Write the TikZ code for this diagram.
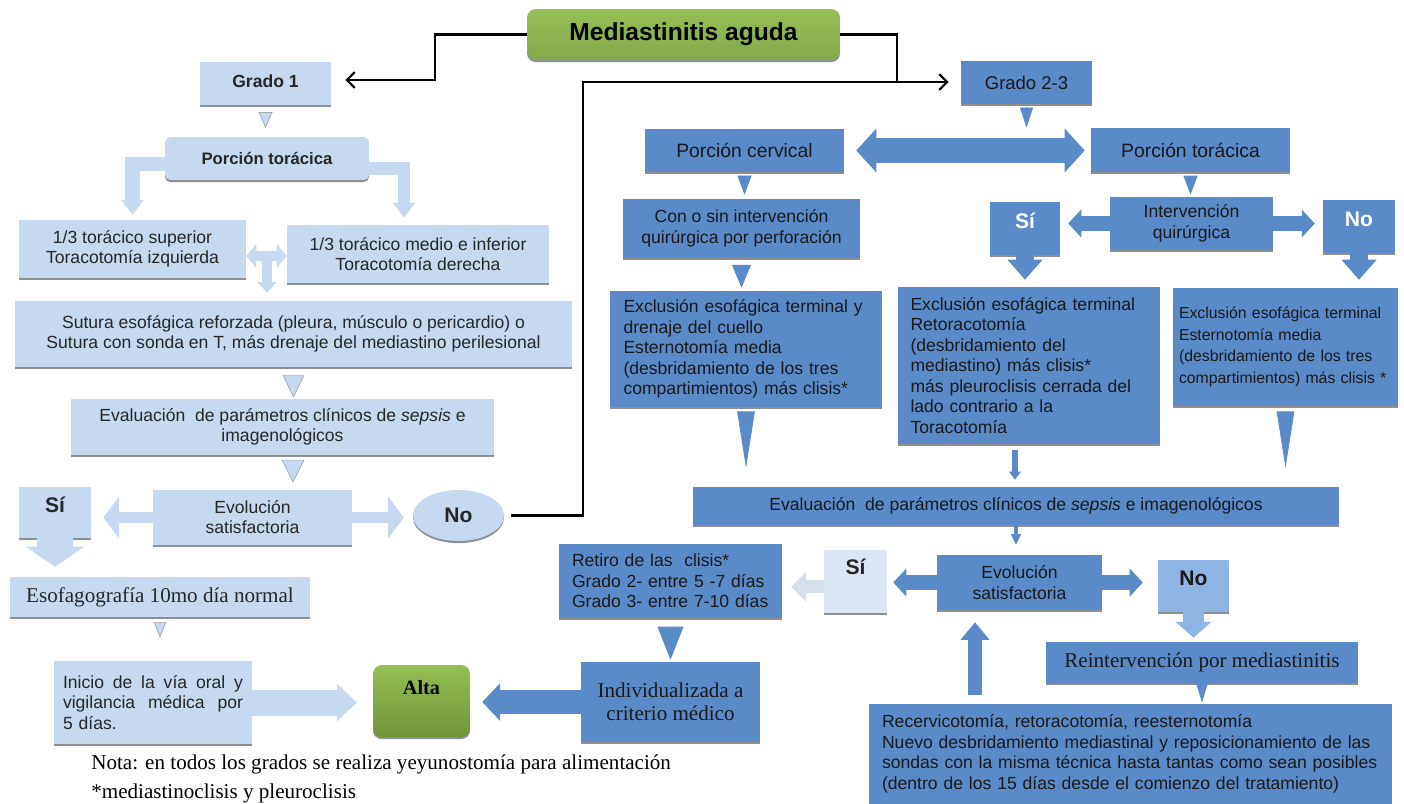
\documentclass[tikz,border=0pt]{standalone}
\usepackage{fontspec}
\setmainfont{Liberation Serif}
\setsansfont{Liberation Sans}
\usetikzlibrary{arrows.meta,shapes.geometric,shadows}

\definecolor{lblue}{HTML}{C6D9F1}
\definecolor{pblue}{HTML}{DCE6F2}
\definecolor{mblue}{HTML}{8EB4E3}
\definecolor{dblue}{HTML}{5A8BC8}
\definecolor{lgreen}{HTML}{95C055}
\definecolor{dgreen}{HTML}{6F9437}

\tikzset{
  sh/.style={drop shadow={shadow xshift=0pt,shadow yshift=-1.2pt,fill=black!55,opacity=.8}},
  lbox/.style={sh,fill=lblue,text=black!85,inner sep=2pt,align=center,font=\sffamily\fontsize{10}{11.5}\selectfont},
  dbox/.style={sh,fill=dblue,text=black!90,inner sep=2pt,align=center,font=\sffamily\fontsize{10}{11.7}\selectfont},
  ltext/.style={align=left,inner ysep=2pt},
  gbox/.style={sh,rounded corners=5pt,top color=lgreen,bottom color=dgreen},
  bold/.style={font=\sffamily\bfseries\fontsize{12}{14}\selectfont},
  serif/.style={font=\rmfamily\fontsize{12}{12.8}\selectfont},
  conn/.style={line width=1.2pt,-{Straight Barb[length=4.5pt,width=9pt]}},
  blk/.style n args={3}{line width=#1,-{Triangle[width=#2,length=#3,line width=0pt]}},
  dblk/.style n args={3}{line width=#1,{Triangle[width=#2,length=#3,line width=0pt]}-{Triangle[width=#2,length=#3,line width=0pt]}},
  ltri/.style 2 args={draw=black!35,line width=0.4pt,-{Triangle[width=#1,length=#2,fill=lblue]}},
  dtri/.style 2 args={draw=dblue,line width=0.4pt,-{Triangle[width=#1,length=#2]}}
}

\begin{document}
\begin{tikzpicture}[x=0.02cm,y=-0.02cm]
\useasboundingbox (0,0) rectangle (1404,804);

% title
\node[gbox,bottom color=lgreen!88!black,font=\sffamily\bfseries\fontsize{14}{16}\selectfont,minimum width=6.26cm,minimum height=1.02cm] (title) at (683.5,34.5) {Mediastinitis aguda};

% grado 1
\node[lbox,font=\sffamily\bfseries\fontsize{10}{12}\selectfont,text depth=0.1cm,minimum width=2.62cm,minimum height=0.86cm] (g1) at (265.5,83.5) {Grado 1};
\node[lbox,rounded corners=3pt,font=\sffamily\bfseries\fontsize{9.5}{11}\selectfont,minimum width=4.08cm,minimum height=0.86cm] (ptorl) at (267,158.5) {Porción torácica};
\node[lbox,minimum width=4.54cm,minimum height=1.16cm] (sup) at (132.5,249) {1/3 torácico superior\\Toracotomía izquierda};
\node[lbox,minimum width=5.24cm,minimum height=1.16cm] (inf) at (418,254) {1/3 torácico medio e inferior\\Toracotomía derecha};
\node[lbox,minimum width=11.14cm,minimum height=1.32cm] (sutura) at (293.5,334) {Sutura esofágica reforzada (pleura, músculo o pericardio) o\\Sutura con sonda en T, más drenaje del mediastino perilesional};
\node[lbox,minimum width=8.46cm,minimum height=1.12cm] (eval1) at (282.5,427) {Evaluación~ de parámetros clínicos de \textit{sepsis} e\\imagenológicos};
\node[lbox,minimum width=3.98cm,minimum height=1.1cm] (evol1) at (252.5,517.5) {Evolución\\satisfactoria};
\node[lbox,bold,text depth=0.3cm,minimum width=1.44cm,minimum height=1.02cm] (si1) at (55,512.5) {Sí};
\node[lbox,bold,ellipse,inner sep=0pt,minimum width=1.82cm,minimum height=1.02cm] (no1) at (458.5,515.5) {No};
\node[lbox,serif,minimum width=6cm,minimum height=0.8cm] (esof) at (160,597) {Esofagografía 10mo día normal};
\node[lbox,align=left,text width=3.6cm,inner xsep=0.18cm,minimum height=1.66cm] (inicio) at (153,702.5) {\makebox[3.6cm]{Inicio\hfill de\hfill la\hfill vía\hfill oral\hfill y}\\\makebox[3.6cm]{vigilancia\hfill médica\hfill por}\\5 días.};
\node[gbox,font=\rmfamily\bfseries\fontsize{11.5}{13}\selectfont,text depth=0.53cm,minimum width=1.94cm,minimum height=1.44cm] (alta) at (421.5,701) {Alta};

% grado 2-3
\node[dbox,font=\sffamily\fontsize{10.5}{12}\selectfont,minimum width=2.62cm,minimum height=0.86cm] (g23) at (1026.5,82.5) {Grado 2-3};
\node[dbox,font=\sffamily\fontsize{11}{13}\selectfont,minimum width=3.98cm,minimum height=0.86cm] (pcerv) at (744.5,150.5) {Porción cervical};
\node[dbox,font=\sffamily\fontsize{11}{13}\selectfont,minimum width=3.98cm,minimum height=0.88cm] (ptorr) at (1190.5,150) {Porción torácica};
\node[dbox,minimum width=4.74cm,minimum height=1.18cm] (consin) at (741.5,228.5) {Con o sin intervención\\quirúrgica por perforación};
\node[dbox,minimum width=3.26cm,minimum height=1.06cm] (interv) at (1191.5,223.5) {Intervención\\quirúrgica};
\node[dbox,bold,text=white,text depth=0.3cm,minimum width=1.4cm,minimum height=1.06cm] (si2) at (1025,228.5) {Sí};
\node[dbox,bold,text=white,text depth=0.3cm,minimum width=1.44cm,minimum height=1.06cm] (no2) at (1359,226.5) {No};
\node[dbox,ltext,text width=4.9cm,inner xsep=0.27cm,minimum height=2.32cm] (exA) at (746,349) {Exclusión esofágica terminal y\\drenaje del cuello\\Esternotomía media\\(desbridamiento de los tres\\compartimientos) más clisis*};
\node[dbox,ltext,text width=4.74cm,inner xsep=0.25cm,minimum height=3.14cm] (exB) at (1029,365.5) {Exclusión esofágica terminal\\Retoracotomía\\(desbridamiento del\\mediastino) más clisis*\\más pleuroclisis cerrada del\\lado contrario a la\\Toracotomía};
\node[dbox,ltext,font=\sffamily\fontsize{9}{12.3}\selectfont,text width=4.26cm,inner xsep=0.12cm,minimum height=2.36cm] (exC) at (1285.5,347) {Exclusión esofágica terminal\\Esternotomía media\\(desbridamiento de los tres\\compartimientos) más clisis *};
\node[dbox,minimum width=12.92cm,minimum height=0.76cm] (evalr) at (1016,506) {Evaluación~ de parámetros clínicos de \textit{sepsis} e imagenológicos};
\node[dbox,minimum width=3.3cm,minimum height=1.1cm] (evolr) at (1019.5,582.5) {Evolución\\satisfactoria};
\node[lbox,fill=pblue,bold,text depth=0.58cm,minimum width=1.26cm,minimum height=1.26cm] (si3) at (855.5,581.5) {Sí};
\node[dbox,ltext,text width=3.94cm,inner xsep=0.26cm,minimum height=1.48cm] (retiro) at (670.5,581) {Retiro de las~ clisis*\\Grado 2- entre 5 -7 días\\Grado 3- entre 7-10 días};
\node[dbox,fill=mblue,bold,text depth=0.32cm,minimum width=1.42cm,minimum height=1.04cm] (no3) at (1193.5,586) {No};
\node[dbox,serif,minimum width=6.24cm,minimum height=0.82cm] (reint) at (1202,662.5) {Reintervención por mediastinitis};
\node[dbox,ltext,text width=9.94cm,inner xsep=0.26cm,minimum height=2cm] (recerv) at (1130.5,754) {Recervicotomía, retoracotomía, reesternotomía\\Nuevo desbridamiento mediastinal y reposicionamiento de las\\sondas con la misma técnica hasta tantas como sean posibles\\(dentro de los 15 días desde el comienzo del tratamiento)};
\node[dbox,serif,minimum width=3.58cm,minimum height=1.6cm] (indiv) at (670.5,702) {Individualizada a\\criterio médico};

% note
\node[anchor=north west,inner sep=0pt,align=left,font=\rmfamily\fontsize{12}{16.5}\selectfont] (nota) at (91,754) {Nota: en todos los grados se realiza yeyunostomía para alimentación\\*mediastinoclisis y pleuroclisis};

% left connectors
\draw[ltri={8pt}{9pt},shorten <=4pt,shorten >=5pt] (g1.south) -- (g1.south |- ptorl.north);
\draw[lblue,blk={8pt}{13pt}{8.5pt},shorten >=2.8pt] ([yshift=-3.4pt]ptorl.west) -| (sup.north);
\draw[lblue,blk={7pt}{13pt}{8.5pt},shorten >=4pt] ([yshift=-5.7pt]ptorl.east) -| ([xshift=-8pt]inf.north);
\coordinate (tee) at (267,256);
\draw[lblue,dblk={5.7pt}{13.7pt}{5.7pt}] (tee -| sup.east) -- (tee -| inf.west);
\draw[lblue,blk={5.7pt}{11pt}{6pt},shorten >=4.5pt] (tee) -- (tee |- sutura.north);
\draw[ltri={12.5pt}{13pt},shorten <=4.5pt,shorten >=0.6pt] (sutura.south) -- (sutura.south |- eval1.north);
\coordinate (e1) at ([xshift=6pt]eval1.south);
\draw[ltri={13pt}{13pt},shorten <=2.8pt,shorten >=4pt] (e1) -- (e1 |- evol1.north);
\draw[lblue,blk={6.8pt}{24pt}{9pt},shorten >=6.8pt] (evol1.west) -- (evol1.west -| si1.east);
\draw[lblue,blk={6.8pt}{24pt}{9pt},shorten >=5pt] (evol1.east) -- (evol1.east -| no1.west);
\draw[lblue,blk={21pt}{33.6pt}{11.4pt},shorten >=5.7pt] (si1.south) -- (si1.south |- esof.north);
\draw[ltri={7pt}{9pt},shorten <=2.8pt,shorten >=13pt] (esof.south) -- (esof.south |- inicio.north);
\draw[lblue,blk={14.8pt}{21.6pt}{11.4pt},shorten >=9pt] (inicio.east) -- (inicio.east -| alta.west);

% black lines
\coordinate (c1) at (435,80);
\coordinate (c2) at (897,82);
\coordinate (c3) at (583,82);
\draw[conn,shorten >=8pt] (title.west) -| (c1) -- (c1 -| g1.east);
\draw[conn,shorten >=6.8pt] (title.east) -| (c2) -- (c2 -| g23.west);
\draw[line width=1.2pt,shorten <=4pt] (no1.east) -| (c3) -- (c2);

% right connectors
\draw[dtri={7.4pt}{11.4pt},shorten <=1.7pt] (g23.south) -- (g23.south |- ptorr.north);
\draw[dblue,dblk={13.7pt}{25pt}{11.4pt},shorten <=6.8pt,shorten >=3.4pt] (pcerv.east) -- (pcerv.east -| ptorr.west);
\draw[dtri={8pt}{10.8pt},shorten <=2.3pt,shorten >=2.3pt] (pcerv.south) -- (pcerv.south |- consin.north);
\draw[dtri={8pt}{10.8pt},shorten <=2.3pt,shorten >=1.1pt] (ptorr.south) -- (ptorr.south |- interv.north);
\draw[dblue,blk={8pt}{16pt}{7.4pt},shorten >=4.5pt] (interv.west) -- (interv.west -| si2.east);
\draw[dblue,blk={8pt}{16pt}{7.4pt},shorten >=4.5pt] (interv.east) -- (interv.east -| no2.west);
\draw[dblue,blk={10.8pt}{20pt}{11.4pt},shorten >=4pt] (si2.south) -- (si2.south |- exB.north);
\draw[dblue,blk={10.8pt}{20pt}{11.4pt},shorten >=4.5pt] (no2.south) -- (no2.south |- exC.north);
\draw[dtri={10.8pt}{13pt},shorten <=4pt,shorten >=1.7pt] (consin.south) -- (consin.south |- exA.north);
\draw[dtri={10pt}{32pt},shorten <=2.8pt,shorten >=10.8pt] (exA.south) -- (exA.south |- evalr.north);
\draw[dtri={10pt}{32pt},shorten <=2.8pt,shorten >=10.8pt] (exC.south) -- (exC.south |- evalr.north);
\coordinate (b1) at ([xshift=-8pt]exB.south);
\draw[dblue,blk={3.4pt}{6.8pt}{4.5pt},shorten <=3.4pt,shorten >=4pt] (b1) -- (b1 |- evalr.north);
\draw[dblue,blk={2.3pt}{6pt}{6pt},shorten >=5.7pt] (evalr.south) -- (evalr.south |- evolr.north);
\draw[dblue,blk={8pt}{16pt}{7.4pt},shorten >=3.4pt] (evolr.west) -- (evolr.west -| si3.east);
\coordinate (s3) at ([yshift=-3pt]si3.west);
\draw[pblue!92!gray,blk={7.4pt}{17pt}{8.5pt},shorten >=5pt] (s3) -- (s3 -| retiro.east);
\draw[dblue,blk={8pt}{16pt}{7.4pt},shorten >=8.5pt] (evolr.east) -- (evolr.east -| no3.west);
\draw[mblue,blk={11.4pt}{20.5pt}{9pt},shorten >=2.3pt] (no3.south) -- (no3.south |- reint.north);
\draw[dtri={6.8pt}{11.4pt},shorten >=0.6pt] (reint.south) -- (reint.south |- recerv.north);
\coordinate (u1) at ([xshift=-88.5pt]recerv.north);
\draw[dblue,blk={8pt}{16.5pt}{10pt},shorten <=5pt,shorten >=6.8pt] (u1) -- (u1 |- evolr.south);
\draw[dtri={14.8pt}{18.8pt},shorten <=5pt,shorten >=1.1pt] (retiro.south) -- (retiro.south |- indiv.north);
\draw[dblue,blk={14.2pt}{21.6pt}{10.2pt},shorten >=6.8pt] (indiv.west) -- (indiv.west -| alta.east);

\end{tikzpicture}
\end{document}
